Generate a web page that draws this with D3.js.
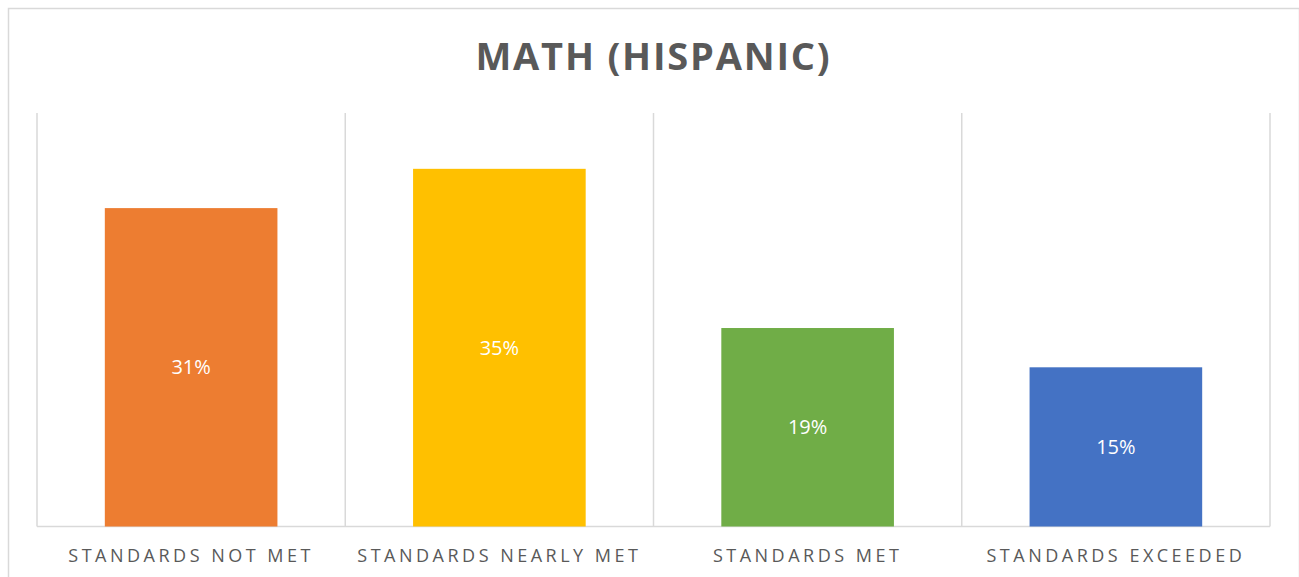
<!DOCTYPE html>
<html>
<head>
<meta charset="utf-8">
<script src="https://cdn.jsdelivr.net/npm/d3@7"></script>
<style>
  html, body { margin: 0; padding: 0; background: #fff; }
  svg { display: block; }
</style>
</head>
<body>
<svg id="chart" width="1299" height="577"></svg>
<script>
const categories = ["STANDARDS NOT MET", "STANDARDS NEARLY MET", "STANDARDS MET", "STANDARDS EXCEEDED"];
const values = [30.8, 34.6, 19.2, 15.4];
const valueLabels = ["31%", "35%", "19%", "15%"];
const colors = ["#ED7D31", "#FFC000", "#70AD47", "#4472C4"];
const title = "MATH (HISPANIC)";

const svg = d3.select("#chart");
const W = 1299, H = 577;
const margin = { left: 37, right: 29, top: 113, bottom: 50 };

// outer chart border
svg.append("rect")
  .attr("x", 8.5).attr("y", 8.5)
  .attr("width", W - 8).attr("height", H)
  .attr("fill", "#fff").attr("stroke", "#d9d9d9").attr("stroke-width", 1.5);

const x = d3.scaleBand()
  .domain(categories)
  .range([margin.left, W - margin.right])
  .paddingInner(0).paddingOuter(0);

const y = d3.scaleLinear().domain([0, 40]).range([H - margin.bottom - 0.5, margin.top]);

// vertical category separators
const seps = categories.map(c => x(c)).concat([x.range()[1]]);
svg.append("g").selectAll("line").data(seps).join("line")
  .attr("x1", d => d).attr("x2", d => d)
  .attr("y1", margin.top).attr("y2", y(0))
  .attr("stroke", "#d9d9d9").attr("stroke-width", 1.5);

// baseline
svg.append("line")
  .attr("x1", x.range()[0]).attr("x2", x.range()[1])
  .attr("y1", y(0)).attr("y2", y(0))
  .attr("stroke", "#d9d9d9").attr("stroke-width", 1.5);

const barW = x.bandwidth() * 0.56;
svg.append("g").selectAll("rect").data(values).join("rect")
  .attr("x", (d, i) => x(categories[i]) + (x.bandwidth() - barW) / 2)
  .attr("width", barW)
  .attr("y", d => y(d))
  .attr("height", d => y(0) - y(d))
  .attr("fill", (d, i) => colors[i]);

svg.append("g").selectAll("text").data(values).join("text")
  .attr("x", (d, i) => x(categories[i]) + x.bandwidth() / 2)
  .attr("y", d => (y(d) + y(0)) / 2)
  .attr("dy", "0.35em")
  .attr("text-anchor", "middle")
  .attr("font-family", "'Open Sans', sans-serif")
  .attr("font-size", 20)
  .attr("fill", "#fff")
  .text((d, i) => valueLabels[i]);

// category axis labels
const xAxis = d3.axisBottom(x).tickSize(0).tickPadding(0);
const gx = svg.append("g").attr("transform", `translate(0,${y(0)})`).call(xAxis);
gx.select(".domain").remove();
gx.selectAll("text")
  .attr("y", 35)
  .attr("dy", 0)
  .attr("font-family", "'Open Sans', sans-serif")
  .attr("font-size", 18)
  .attr("letter-spacing", "3.5px")
  .attr("fill", "#595959");

// title
svg.append("text")
  .attr("x", (x.range()[0] + x.range()[1]) / 2)
  .attr("y", 70)
  .attr("text-anchor", "middle")
  .attr("font-family", "'Open Sans', sans-serif")
  .attr("font-weight", "bold")
  .attr("font-size", 38)
  .attr("letter-spacing", "1.8px")
  .attr("fill", "#595959")
  .text(title);
</script>
</body>
</html>
